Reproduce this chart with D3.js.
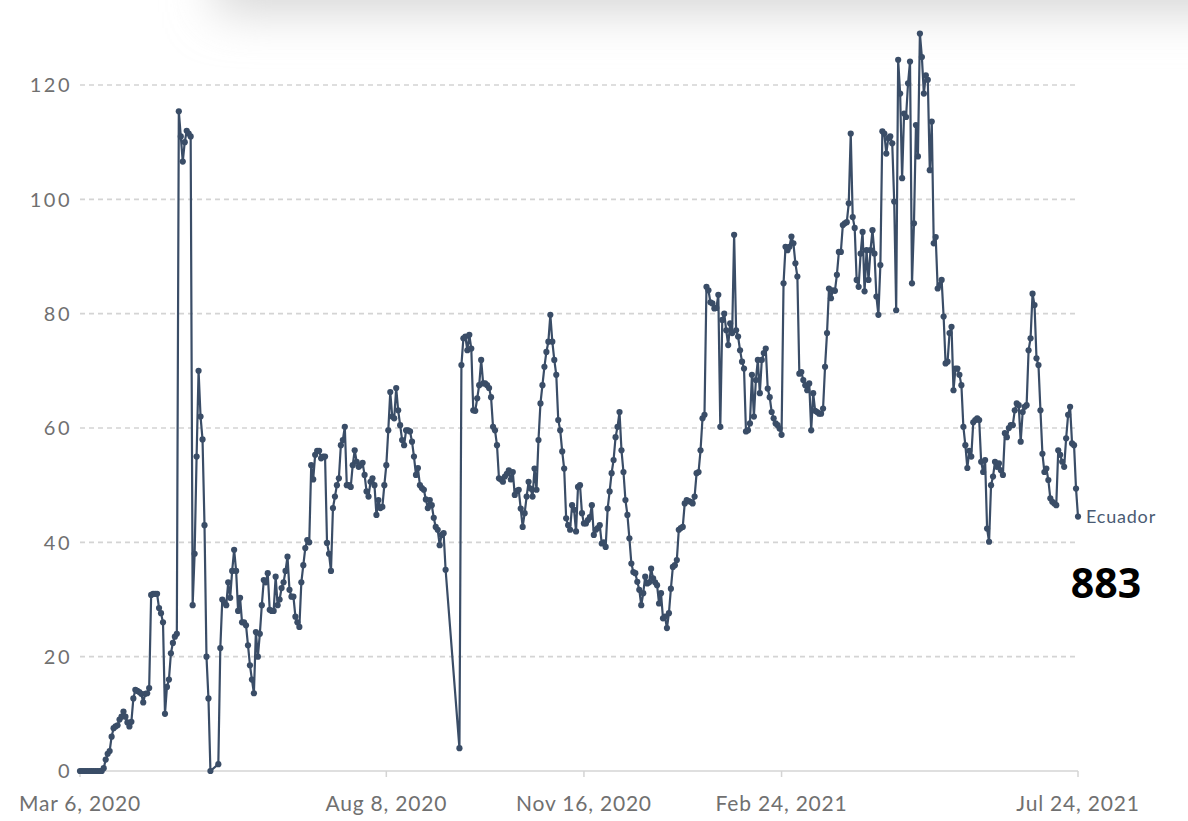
<!DOCTYPE html>
<html>
<head>
<meta charset="utf-8">
<script src="https://cdn.jsdelivr.net/npm/d3@7"></script>
<style>
  body { margin: 0; background: #fff; }
  svg { display: block; }
</style>
</head>
<body>
<svg width="1188" height="821"></svg>
<script>
var startDate = '2020-03-06'

// one value per day from Mar 6, 2020 (null = no report that day)
var values = [
  0, 0, 0, 0, 0, 0, 0, 0, 0, 0,
  0, 0, 0.5, 2, 3, 3.5, 6, 7.5, 7.8, 8,
  9, 9.5, 10.4, 9.5, 8.5, 7.8, 8.6, 12.7, 14.2, 14,
  13.8, 13.5, 12, 13.5, 13.6, 14.5, 30.8, 31, 31, 31,
  28.5, 27.6, 26, 10, 14.7, 16, 20.6, 22.4, 23.5, 24,
  115.4, 111, 106.6, 110, 112, 111.5, 111, 29, 38, 55,
  70, 62, 58, 43, 20, 12.7, 0, null, null, null,
  1.2, 21.5, 30, 29.5, 29, 33, 30.3, 35, 38.7, 35,
  28, 30.3, 26, 26, 25.5, 22, 18.5, 16, 13.6, 24.3,
  20, 24, 29, 33.4, 33, 34.6, 28.2, 28, 28, 34,
  29, 30, 32, 33, 35, 37.5, 31.7, 30.5, 30.5, 27,
  26, 25.2, 33, 36, 39, 40.4, 40, 53.5, 51, 55.3,
  56, 56, 54.7, 55, 55, 39.9, 38, 35, 46, 48,
  50, 51.2, 57, 57.9, 60.2, 50, 50, 49.7, 53.5, 56.1,
  54.1, 53.2, 53.5, 53.9, 51.8, 48.9, 48, 50.6, 51.2, 50,
  44.8, 47.4, 46, 46.2, 50, 53.5, 59.6, 66.3, 62, 61.7,
  67, 63.1, 60.5, 57.9, 57, 59.6, 59.6, 59.4, 57.6, 55,
  51.8, 53, 50, 49.5, 49.2, 47.5, 46, 47.4, 46.5, 44.3,
  42.7, 42.2, 39.5, 41.3, 41.6, 35.2, null, null, null, null,
  null, null, 4, 71, 75.7, 76, 73.6, 76.3, 73.9, 63.1,
  63, 65.2, 67.5, 71.9, 67.8, 67.8, 67.5, 67, 65.4, 60.2,
  59.6, 57, 51.2, 51, 50.6, 51.5, 52, 52.6, 51, 52.3,
  48.3, 49, 49.2, 45.9, 42.7, 45.1, 48, 50.6, 49.4, 48,
  52.9, 49.2, 57.9, 64.3, 67.5, 70.7, 73.3, 75.1, 79.8, 75.1,
  71.9, 69.3, 61.4, 59.6, 55.9, 52.9, 44.2, 43, 42.2, 46.5,
  45.7, 41.9, 49.7, 50, 45.1, 43.3, 43.3, 43.9, 44.4, 46.5,
  41.3, 42.2, 42.5, 43, 39.8, 40, 39.2, 45.9, 48.9, 52.1,
  54.4, 58.4, 60.2, 62.8, 56.1, 52.3, 47.4, 44.8, 40.7, 36.3,
  34.8, 34.6, 33.1, 31.7, 29, 31.1, 34, 32.8, 33, 35.4,
  33.7, 33, 32.5, 29.3, 31.1, 26.7, 27, 25, 27.6, 31.9,
  35.7, 36, 36.9, 42.2, 42.5, 42.7, 46.8, 47.4, 47.2, 47.1,
  46.8, 48, 52.1, 52.3, 56.1, 61.7, 62.3, 84.7, 84.1, 82,
  81.8, 80.9, 81, 83.3, 60.2, 78.9, 80, 77.1, 74.5, 78.3,
  76.6, 93.8, 77.1, 76, 73.6, 71.6, 70.4, 59.4, 59.6, 60.8,
  69.3, 62, 68.4, 71.9, 66.1, 71.9, 73.1, 73.9, 66.9, 65.4,
  62.8, 61.7, 60.8, 60.5, 59.9, 58.8, 85.3, 91.7, 91.1, 91.7,
  93.5, 92.3, 88.8, 86.5, 69.5, 69.8, 68.4, 67.5, 66.6, 67.8,
  59.6, 66.1, 63, 62.8, 62.5, 62.5, 63.4, 70.7, 76.6, 84.4,
  82.7, 84.1, 84, 86.8, 90.8, 90.8, 95.5, 95.8, 96, 99.3,
  111.5, 96.9, 95, 85.9, 84.7, 90.5, 94.3, 83.9, 91.1, 85.9,
  91.1, 94.6, 90.5, 83, 79.8, 88.5, 111.9, 111.5, 108, 110.7,
  111, 109.8, 99.6, 80.6, 124.4, 118.5, 103.7, 115, 114.4, 120.3,
  124.1, 85.3, 95.8, 113, 107.5, 129, 124.9, 118.5, 121.7, 120.9,
  105.1, 113.6, 92.3, 93.4, 84.4, 85, 85.9, 79.5, 71.3, 71.6,
  76.6, 77.7, 66.6, 70.4, 70.4, 69.3, 67.5, 60.2, 57, 53,
  56, 55, 61, 61.4, 61.7, 61.4, 54.1, 52.3, 54.4, 42.4,
  40.1, 50, 51.5, 54.1, 53.2, 53.8, 52.6, 51.8, 59.1, 58.4,
  60, 60.5, 60.5, 63.1, 64.3, 64, 57.6, 62.8, 63.7, 64,
  73.6, 75.7, 83.5, 81.5, 72.2, 71, 63.1, 55.5, 52.3, 52.9,
  50.9, 47.7, 47.1, 46.8, 46.5, 56.1, 55.3, 54.1, 53.2, 58.2,
  62.3, 63.7, 57.3, 57, 49.4, 44.5
]

var yTicks = [0, 20, 40, 60, 80, 100, 120]
var xTickDates = ['2020-03-06', '2020-08-08', '2020-11-16', '2021-02-24', '2021-07-24']
var xTickLabels = ['Mar 6, 2020', 'Aug 8, 2020', 'Nov 16, 2020', 'Feb 24, 2021', 'Jul 24, 2021']
var seriesName = 'Ecuador'
var totalLabel = '883'

var parse = d3.timeParse('%Y-%m-%d')
var start = parse(startDate)
var points = values.map(function(v, i) {
  return {date: d3.timeDay.offset(start, i), value: v}
}).filter(function(d) { return d.value !== null })

var color = '#3a4d67'
var svg = d3.select('svg')

// faint grey shadow along the top edge
var defs = svg.append('defs')
defs.append('filter').attr('id', 'soft')
  .attr('x', '-20%').attr('y', '-200%').attr('width', '140%').attr('height', '500%')
  .append('feGaussianBlur').attr('stdDeviation', 24)
svg.append('rect')
  .attr('x', 215).attr('y', -50).attr('width', 1040).attr('height', 62)
  .attr('fill', '#d6d6d6')
  .attr('filter', 'url(#soft)')

var x = d3.scaleTime()
  .domain([start, parse(xTickDates[xTickDates.length - 1])])
  .range([80, 1078])
var y = d3.scaleLinear().domain([0, 120]).range([771, 85])

// grid
svg.append('g').selectAll('line')
  .data(yTicks)
  .enter().append('line')
  .attr('x1', 80).attr('x2', 1078)
  .attr('y1', function(d) { return y(d) })
  .attr('y2', function(d) { return y(d) })
  .attr('stroke', '#d4d4d4')
  .attr('stroke-width', 1.6)
  .attr('stroke-dasharray', function(d) { return d === 0 ? null : '5,4' })

// y labels
svg.append('g').selectAll('text')
  .data(yTicks)
  .enter().append('text')
  .attr('x', 72)
  .attr('y', function(d) { return y(d) })
  .attr('dy', '0.36em')
  .attr('text-anchor', 'end')
  .attr('font-family', 'Lato, sans-serif')
  .attr('font-size', 20)
  .attr('letter-spacing', 2.5)
  .attr('fill', '#707070')
  .text(function(d) { return d })

// x axis
var xAxis = svg.append('g')
xAxis.selectAll('line')
  .data(xTickDates)
  .enter().append('line')
  .attr('x1', function(d) { return x(parse(d)) })
  .attr('x2', function(d) { return x(parse(d)) })
  .attr('y1', 771).attr('y2', 777)
  .attr('stroke', '#d4d4d4')
  .attr('stroke-width', 1.5)
xAxis.selectAll('text')
  .data(xTickDates)
  .enter().append('text')
  .attr('x', function(d) { return x(parse(d)) })
  .attr('y', 811)
  .attr('text-anchor', 'middle')
  .attr('font-family', 'Lato, sans-serif')
  .attr('font-size', 21)
  .attr('letter-spacing', 0.8)
  .attr('fill', '#707070')
  .text(function(d, i) { return xTickLabels[i] })

// series
var line = d3.line()
  .x(function(d) { return x(d.date) })
  .y(function(d) { return y(d.value) })

svg.append('path')
  .datum(points)
  .attr('d', line)
  .attr('fill', 'none')
  .attr('stroke', color)
  .attr('stroke-width', 2.2)
  .attr('stroke-linejoin', 'round')

svg.append('g').selectAll('circle')
  .data(points)
  .enter().append('circle')
  .attr('cx', function(d) { return x(d.date) })
  .attr('cy', function(d) { return y(d.value) })
  .attr('r', 3.1)
  .attr('fill', color)

var last = points[points.length - 1]
svg.append('text')
  .attr('x', x(last.date) + 8)
  .attr('y', y(last.value))
  .attr('dy', '0.35em')
  .attr('font-family', 'Lato, sans-serif')
  .attr('font-size', 18)
  .attr('letter-spacing', 0.8)
  .attr('fill', '#4a5b73')
  .text(seriesName)

svg.append('text')
  .attr('x', 1106)
  .attr('y', 598)
  .attr('text-anchor', 'middle')
  .attr('font-family', '"Open Sans", sans-serif')
  .attr('font-weight', 700)
  .attr('font-size', 41)
  .attr('fill', '#000')
  .text(totalLabel)
</script>
</body>
</html>
